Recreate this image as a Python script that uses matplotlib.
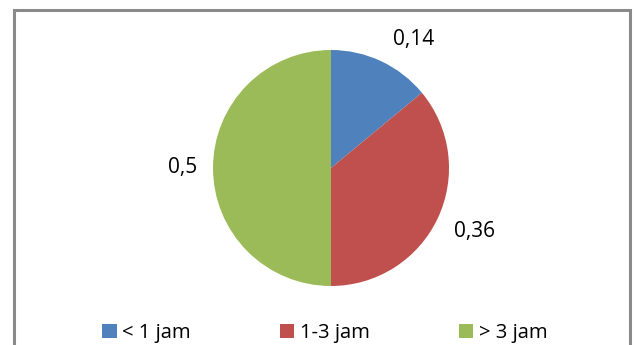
import numpy as np
import matplotlib
matplotlib.use("Agg")
import matplotlib.pyplot as plt
from matplotlib.patches import Rectangle

# data
categories = ["< 1 jam", "1-3 jam", "> 3 jam"]
values = [0.14, 0.36, 0.5]
value_labels = ["0,14", "0,36", "0,5"]
colors = ["#4F81BD", "#C0504D", "#9BBB59"]

plt.rcParams['font.family'] = ['Open Sans', 'DejaVu Sans']

W, H = 635, 345
fig = plt.figure(figsize=(W / 100, H / 100), dpi=100)

# chart frame, runs off the bottom edge
frame = Rectangle((13.5 / W, -0.2), 616 / W, (H - 9.5) / H + 0.2,
                  transform=fig.transFigure, fill=False,
                  edgecolor="#8a8a8a", linewidth=2.2, clip_on=False)
fig.patches.append(frame)

# pie axes: centre (331, 168) px, radius ~118 px
cx, cy, r = 331, 168, 118
ax = fig.add_axes([(cx - r) / W, (H - cy - r) / H, 2 * r / W, 2 * r / H])
wedges, _ = ax.pie(values, colors=colors, startangle=90, counterclock=False,
                   radius=1.0, wedgeprops=dict(linewidth=0))
ax.set_xlim(-1, 1)
ax.set_ylim(-1, 1)
ax.set_aspect('equal')
ax.axis('off')

# value labels outside each slice
label_dist = [1.29, 1.33, 1.26]
label_shift = [-7.5, 1.5, 0.0]   # degrees, best-fit nudges
for w, txt, d, s in zip(wedges, value_labels, label_dist, label_shift):
    ang = np.deg2rad((w.theta1 + w.theta2) / 2 + s)
    ax.text(d * np.cos(ang), d * np.sin(ang), txt, ha='center', va='center',
            fontsize=15, color='black', clip_on=False)

leg = fig.legend(wedges, categories, loc='center', ncol=3,
                 bbox_to_anchor=(325 / W, 1 - 333 / H), frameon=False,
                 fontsize=14.6, handlelength=0.7, handleheight=0.7,
                 handletextpad=0.28, columnspacing=4.4, borderpad=0)

fig.savefig("out.png", dpi=100)
